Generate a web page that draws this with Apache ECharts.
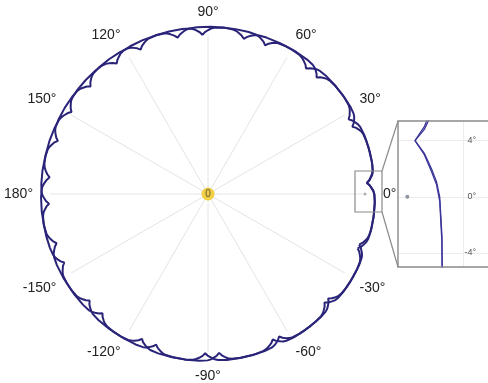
<!DOCTYPE html>
<html>
<head>
<meta charset="utf-8">
<script src="https://cdn.jsdelivr.net/npm/echarts@6/dist/echarts.min.js"></script>
<style>
  html, body { margin: 0; padding: 0; background: #ffffff; }
  #chart { width: 488px; height: 383px; }
</style>
</head>
<body>
<div id="chart"></div>
<script>
// Curve A: 16 scalloped lobes, angle in degrees (counter-clockwise from 0°)
const anglesA = [
  -18.5, -17.6, -16.5, -15.6, -14.4, -11.7, -7.2, -2.7, 0, 1.1, 2, 3.1,
  4, 4.8, 5.9, 6.7, 7.8, 10.3, 14.5, 18.7, 21.2, 22.3, 23.1, 24.2,
  25, 25.9, 27, 27.9, 29, 31.6, 36, 40.4, 43, 44.1, 45, 46.1,
  47, 47.9, 49, 49.9, 51, 53.6, 58, 62.4, 65, 66.1, 67, 68.1,
  69, 69.9, 71.1, 72, 73.1, 75.9, 80.5, 85.1, 87.9, 89, 89.9, 91.1,
  92, 92.9, 94.1, 95, 96.1, 98.9, 103.5, 108.1, 110.9, 112, 112.9, 114.1,
  115, 115.9, 117, 117.9, 119.1, 121.8, 126.3, 130.8, 133.5, 134.6, 135.5, 136.6,
  137.5, 138.4, 139.6, 140.5, 141.6, 144.4, 149, 153.6, 156.4, 157.5, 158.4, 159.6,
  160.5, 161.4, 162.6, 163.5, 164.6, 167.4, 172, 176.6, 179.4, 180.5, 181.4, 182.6,
  183.5, 184.4, 185.5, 186.4, 187.5, 190.1, 194.5, 198.9, 201.5, 202.6, 203.5, 204.6,
  205.5, 206.4, 207.6, 208.5, 209.6, 212.4, 217, 221.6, 224.4, 225.5, 226.4, 227.6,
  228.5, 229.4, 230.5, 231.4, 232.6, 235.3, 239.8, 244.3, 247, 248.1, 249, 250.1,
  251, 251.9, 253.1, 254, 255.1, 257.9, 262.5, 267.1, 269.9, 271, 271.9, 273.1,
  274, 274.9, 276, 276.9, 278.1, 280.8, 285.3, 289.8, 292.5, 293.6, 294.5, 295.6,
  296.5, 297.4, 298.5, 299.4, 300.6, 303.3, 307.8, 312.3, 315, 316.1, 317, 318.1,
  319, 319.9, 321, 321.9, 323.1, 325.8, 330.3, 334.8, 337.5, 338.6, 339.5, 340.6,
  341.5
];
const radiiA = [
  100.8, 102.5, 103.8, 104.7, 105.3, 105.7, 105.8, 105.7, 105.3, 104.7, 103.8, 102.5,
  100.8, 102.5, 103.8, 104.7, 105.3, 105.7, 105.8, 105.7, 105.3, 104.7, 103.8, 102.5,
  100.8, 102.5, 103.8, 104.7, 105.3, 105.7, 105.8, 105.7, 105.3, 104.7, 103.8, 102.5,
  100.8, 102.5, 103.8, 104.7, 105.3, 105.7, 105.8, 105.7, 105.3, 104.7, 103.8, 102.5,
  100.8, 102.5, 103.8, 104.7, 105.3, 105.7, 105.8, 105.7, 105.3, 104.7, 103.8, 102.5,
  100.8, 102.5, 103.8, 104.7, 105.3, 105.7, 105.8, 105.7, 105.3, 104.7, 103.8, 102.5,
  100.8, 102.5, 103.8, 104.7, 105.3, 105.7, 105.8, 105.7, 105.3, 104.7, 103.8, 102.5,
  100.8, 102.5, 103.8, 104.7, 105.3, 105.7, 105.8, 105.7, 105.3, 104.7, 103.8, 102.5,
  100.8, 102.5, 103.8, 104.7, 105.3, 105.7, 105.8, 105.7, 105.3, 104.7, 103.8, 102.5,
  100.8, 102.5, 103.8, 104.7, 105.3, 105.7, 105.8, 105.7, 105.3, 104.7, 103.8, 102.5,
  100.8, 102.5, 103.8, 104.7, 105.3, 105.7, 105.8, 105.7, 105.3, 104.7, 103.8, 102.5,
  100.8, 102.5, 103.8, 104.7, 105.3, 105.7, 105.8, 105.7, 105.3, 104.7, 103.8, 102.5,
  100.8, 102.5, 103.8, 104.7, 105.3, 105.7, 105.8, 105.7, 105.3, 104.7, 103.8, 102.5,
  100.8, 102.5, 103.8, 104.7, 105.3, 105.7, 105.8, 105.7, 105.3, 104.7, 103.8, 102.5,
  100.8, 102.5, 103.8, 104.7, 105.3, 105.7, 105.8, 105.7, 105.3, 104.7, 103.8, 102.5,
  100.8, 102.5, 103.8, 104.7, 105.3, 105.7, 105.8, 105.7, 105.3, 104.7, 103.8, 102.5,
  100.8
];

// Curve B: 15 scalloped lobes
const anglesB = [
  -20, -19, -17.8, -16.9, -15.7, -12.8, -8, -3.2, -0.3, 0.9, 1.8, 3,
  4, 5, 6.2, 7.1, 8.3, 11.2, 16, 20.8, 23.7, 24.9, 25.8, 27,
  28, 29, 30.2, 31.1, 32.3, 35.2, 40, 44.8, 47.7, 48.9, 49.8, 51,
  52, 53, 54.3, 55.3, 56.5, 59.5, 64.5, 69.5, 72.5, 73.8, 74.8, 76,
  77, 78, 79.2, 80.1, 81.3, 84.2, 89, 93.8, 96.7, 97.9, 98.8, 100,
  101, 102, 103.2, 104.1, 105.3, 108.2, 113, 117.8, 120.7, 121.9, 122.8, 124,
  125, 126, 127.2, 128.1, 129.3, 132.2, 137, 141.8, 144.7, 145.9, 146.8, 148,
  149, 150, 151.3, 152.3, 153.5, 156.5, 161.5, 166.5, 169.5, 170.8, 171.8, 173,
  174, 175, 176.2, 177.1, 178.3, 181.2, 186, 190.8, 193.7, 194.9, 195.8, 197,
  198, 199, 200.2, 201.1, 202.3, 205.2, 210, 214.8, 217.7, 218.9, 219.8, 221,
  222, 222.9, 224.1, 225.1, 226.2, 229.1, 233.8, 238.5, 241.3, 242.4, 243.4, 244.6,
  245.5, 246.4, 247.6, 248.6, 249.7, 252.6, 257.3, 262, 264.8, 265.9, 266.9, 268.1,
  269, 270, 271.3, 272.3, 273.5, 276.5, 281.5, 286.5, 289.5, 290.8, 291.8, 293,
  294, 294.9, 296.1, 297, 298.1, 300.9, 305.5, 310.1, 312.9, 314, 314.9, 316.1,
  317, 317.9, 319.1, 320, 321.1, 323.9, 328.5, 333.1, 335.9, 337, 337.9, 339.1,
  340
];
const radiiB = [
  100.8, 102.5, 103.8, 104.7, 105.3, 105.7, 105.8, 105.7, 105.3, 104.7, 103.8, 102.5,
  100.8, 102.5, 103.8, 104.7, 105.3, 105.7, 105.8, 105.7, 105.3, 104.7, 103.8, 102.5,
  100.8, 102.5, 103.8, 104.7, 105.3, 105.7, 105.8, 105.7, 105.3, 104.7, 103.8, 102.5,
  100.8, 102.5, 103.8, 104.7, 105.3, 105.7, 105.8, 105.7, 105.3, 104.7, 103.8, 102.5,
  100.8, 102.5, 103.8, 104.7, 105.3, 105.7, 105.8, 105.7, 105.3, 104.7, 103.8, 102.5,
  100.8, 102.5, 103.8, 104.7, 105.3, 105.7, 105.8, 105.7, 105.3, 104.7, 103.8, 102.5,
  100.8, 102.5, 103.8, 104.7, 105.3, 105.7, 105.8, 105.7, 105.3, 104.7, 103.8, 102.5,
  100.8, 102.5, 103.8, 104.7, 105.3, 105.7, 105.8, 105.7, 105.3, 104.7, 103.8, 102.5,
  100.8, 102.5, 103.8, 104.7, 105.3, 105.7, 105.8, 105.7, 105.3, 104.7, 103.8, 102.5,
  100.8, 102.5, 103.8, 104.7, 105.3, 105.7, 105.8, 105.7, 105.3, 104.7, 103.8, 102.5,
  100.8, 102.5, 103.8, 104.7, 105.3, 105.7, 105.8, 105.7, 105.3, 104.7, 103.8, 102.5,
  100.8, 102.5, 103.8, 104.7, 105.3, 105.7, 105.8, 105.7, 105.3, 104.7, 103.8, 102.5,
  100.8, 102.5, 103.8, 104.7, 105.3, 105.7, 105.8, 105.7, 105.3, 104.7, 103.8, 102.5,
  100.8, 102.5, 103.8, 104.7, 105.3, 105.7, 105.8, 105.7, 105.3, 104.7, 103.8, 102.5,
  100.8, 102.5, 103.8, 104.7, 105.3, 105.7, 105.8, 105.7, 105.3, 104.7, 103.8, 102.5,
  100.8
];

// Reference marker at 0° and the origin marker
const refPoint = [[99.4, 0]];
const originPoint = [[0, 0]];

// Tick labels
const angleStep = 30;
const insetAngleTicks = [-4, 0, 4];
const insetRadiusTicks = [109.6];

const zip = (r, a) => r.map((v, i) => [v, a[i]]);
const curveA = zip(radiiA, anglesA);
const curveB = zip(radiiB, anglesB);

const lineColor = '#2a2479';
const font = 'Liberation Sans, Arial, Helvetica, sans-serif';

// The grid polar spans radius 0..100; the curve polar shares its centre and
// scale but reaches 110 so the lobes stay inside its extent.
const center = [208, 194];
const gridRadius = 158;
const gridMax = 100;
const curveMax = 110;

const hiddenAngle = {
  type: 'value', min: -180, max: 180, interval: angleStep,
  startAngle: 180, clockwise: false,
  axisLine: { show: false }, axisTick: { show: false },
  axisLabel: { show: false }, splitLine: { show: false }
};
const hiddenRadius = {
  min: 0, axisLine: { show: false }, axisTick: { show: false },
  axisLabel: { show: false }, splitLine: { show: false }
};

const chart = echarts.init(document.getElementById('chart'), null, { renderer: 'canvas' });

chart.setOption({
  animation: false,
  backgroundColor: '#ffffff',
  polar: [
    { center: center, radius: gridRadius },
    { center: center, radius: gridRadius * curveMax / gridMax }
  ],
  angleAxis: [
    {
      polarIndex: 0,
      type: 'value',
      min: -180,
      max: 180,
      interval: angleStep,
      startAngle: 180,
      clockwise: false,
      axisLine: { show: false },
      axisTick: { show: false },
      splitLine: { show: true, lineStyle: { color: '#e4e4e4', width: 1 } },
      axisLabel: {
        margin: 17,
        fontSize: 14,
        fontFamily: font,
        color: '#222222',
        formatter: v => (v === 180 ? '' : (v === -180 ? '180' : String(v)) + '°')
      }
    },
    Object.assign({ polarIndex: 1 }, hiddenAngle)
  ],
  radiusAxis: [
    Object.assign({ polarIndex: 0, max: gridMax }, hiddenRadius),
    Object.assign({ polarIndex: 1, max: curveMax }, hiddenRadius)
  ],
  grid: { left: 398, top: 121, width: 95, height: 146, show: false },
  xAxis: {
    type: 'value',
    min: 97.7,
    max: 114.1,
    axisLine: { show: false },
    axisTick: { show: false, customValues: insetRadiusTicks },
    axisLabel: { show: false, customValues: insetRadiusTicks },
    splitLine: { show: true, lineStyle: { color: '#ececec', width: 1 } }
  },
  yAxis: {
    type: 'value',
    min: -5,
    max: 5.4,
    position: 'right',
    axisLine: { show: false },
    axisTick: { show: false, customValues: insetAngleTicks },
    axisLabel: {
      inside: true,
      margin: 12,
      customValues: insetAngleTicks,
      fontSize: 9,
      fontFamily: font,
      color: '#555555',
      formatter: v => v + '°'
    },
    splitLine: { show: true, lineStyle: { color: '#ececec', width: 1 } }
  },
  graphic: [
    { type: 'rect', shape: { x: 355, y: 171, width: 27, height: 41 },
      style: { fill: 'none', stroke: '#8a8a8a', lineWidth: 1.2 }, z: 10 },
    { type: 'rect', shape: { x: 398, y: 121, width: 100, height: 146 },
      style: { fill: 'none', stroke: '#8a8a8a', lineWidth: 1.4 }, z: 10 },
    { type: 'line', shape: { x1: 382, y1: 171, x2: 398, y2: 121 },
      style: { stroke: '#8a8a8a', lineWidth: 1.2 }, z: 10 },
    { type: 'line', shape: { x1: 382, y1: 212, x2: 398, y2: 267 },
      style: { stroke: '#8a8a8a', lineWidth: 1.2 }, z: 10 }
  ],
  series: [
    {
      type: 'line', coordinateSystem: 'polar', polarIndex: 1, data: curveA,
      showSymbol: false, clip: false, silent: true,
      lineStyle: { color: lineColor, width: 2 }
    },
    {
      type: 'line', coordinateSystem: 'polar', polarIndex: 1, data: curveB,
      showSymbol: false, clip: false, silent: true,
      lineStyle: { color: lineColor, width: 2 }
    },
    {
      type: 'scatter', coordinateSystem: 'polar', polarIndex: 0, data: refPoint,
      symbolSize: 3, itemStyle: { color: '#9aa0a6' }, silent: true
    },
    {
      type: 'scatter', coordinateSystem: 'polar', polarIndex: 0, data: originPoint,
      symbolSize: 13, itemStyle: { color: '#f0c419' }, silent: true, z: 5,
      label: {
        show: true, position: 'inside', formatter: p => String(p.value[0]),
        fontSize: 10, fontFamily: font, color: '#3a3a3a'
      }
    },
    {
      type: 'line', xAxisIndex: 0, yAxisIndex: 0, data: curveA,
      showSymbol: false, clip: true, silent: true,
      lineStyle: { color: '#3b3699', width: 1.3 }
    },
    {
      type: 'line', xAxisIndex: 0, yAxisIndex: 0, data: curveB,
      showSymbol: false, clip: true, silent: true,
      lineStyle: { color: '#3b3699', width: 1.3 }
    },
    {
      type: 'scatter', xAxisIndex: 0, yAxisIndex: 0, data: refPoint,
      symbolSize: 4, itemStyle: { color: '#6f7d8a' }, silent: true
    }
  ]
});
</script>
</body>
</html>
